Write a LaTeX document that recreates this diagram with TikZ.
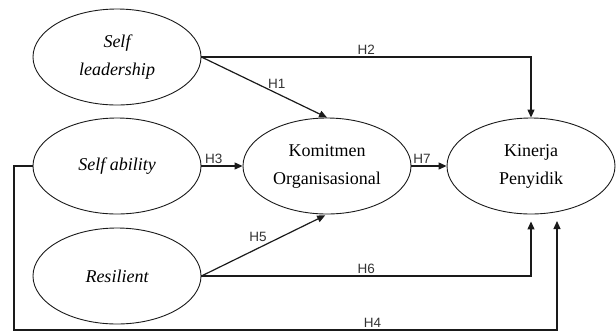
\documentclass[tikz,border=0pt]{standalone}
\usepackage{fontspec}
\setmainfont{Liberation Serif}
\newfontfamily\hlabelfont{Liberation Sans}
\usepackage{xcolor}
\usepackage{tikz}
\usetikzlibrary{
    shapes.geometric,
    arrows.meta,
    positioning
}
\definecolor{pathblack}{HTML}{1A1A1A}
\definecolor{labelgray}{HTML}{333333}
\tikzset{
    % Construct ellipse
    construct/.style={
        ellipse,
        draw=pathblack,
        line width=0.9pt,
        minimum width=168pt,
        minimum height=96pt,
        inner sep=0pt,
        align=center,
        font=\fontsize{18}{28}\selectfont
    },
    % Exogenous construct (italic)
    exoconstruct/.style={
        construct,
        font=\fontsize{18}{28}\selectfont\itshape
    },
    % Hypothesis arrow
    hyparrow/.style={
        -{Triangle[length=8pt,width=7pt]},
        line width=1.2pt,
        color=pathblack
    },
    % Hypothesis label
    hyplabel/.style={
        font=\hlabelfont\fontsize{13.5}{15}\selectfont,
        text=labelgray,
        inner sep=2pt
    }
}
\begin{document}
\begin{tikzpicture}[x=1pt, y=-1pt]

    \useasboundingbox (0,0) rectangle (616,333);

    % Constructs
    \node[exoconstruct] (lead) at (117,57) {Self\\leadership};
    \node[exoconstruct] (abil) at (117,166) {Self ability};
    \node[exoconstruct] (resil) at (117,276) {Resilient};
    \node[construct] (komit) at (327,166) {Komitmen\\Organisasional};
    \node[construct] (kiner) at (531,166) {Kinerja\\Penyidik};

    % Turning points of H4
    \coordinate (h4turn) at (14,330);
    \coordinate (h4end) at (557,221);

    % Hypotheses
    \draw[hyparrow] (lead.east) -- (komit.north)
        node[hyplabel, pos=0.6, above=2pt] {H1};
    \draw[hyparrow] (lead.east) -| (kiner.north)
        node[hyplabel, pos=0.25, above] {H2};
    \draw[hyparrow] (abil.east) -- (komit.west)
        node[hyplabel, pos=0.3, above] {H3};
    \draw[hyparrow] (abil.west) -| (h4turn) -| (h4end)
        node[hyplabel, pos=0.33, above] {H4};
    \draw[hyparrow, shorten >=2pt] (resil.east) -- (komit.south)
        node[hyplabel, pos=0.45, above=4pt] {H5};
    \draw[hyparrow, shorten >=7pt] (resil.east) -| (kiner.south)
        node[hyplabel, pos=0.25, above] {H6};
    \draw[hyparrow] (komit.east) -- (kiner.west)
        node[hyplabel, pos=0.3, above] {H7};

\end{tikzpicture}
\end{document}
